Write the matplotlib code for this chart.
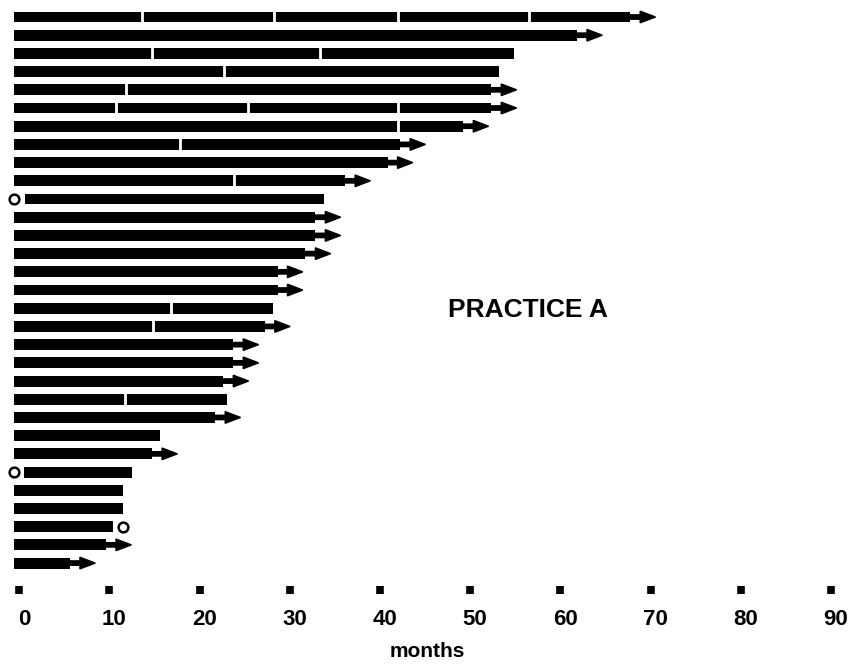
import matplotlib
matplotlib.use("Agg")
import matplotlib.pyplot as plt
from matplotlib.transforms import ScaledTranslation

# swimmer plot data, rows from top to bottom (months)
ends = [68.3, 62.4, 55.4, 53.8, 52.9, 52.9, 49.8, 42.8, 41.4, 36.7,
        34.3, 33.4, 33.4, 32.3, 29.2, 29.2, 28.7, 27.8, 24.3, 24.3,
        23.2, 23.6, 22.3, 16.2, 15.3, 13.1, 12.1, 12.1, 11.0, 10.2, 6.2]
starts = [0, 0, 0, 0, 0, 0, 0, 0, 0, 0,
          1.2, 0, 0, 0, 0, 0, 0, 0, 0, 0,
          0, 0, 0, 0, 0, 1.1, 0, 0, 0, 0, 0]
breaks = [[14.2, 28.8, 42.6, 57.1], [], [15.3, 33.9], [23.3], [12.4],
          [11.3, 25.9, 42.5], [42.5], [18.4], [], [24.4],
          [], [], [], [], [], [], [17.4], [15.4], [], [],
          [], [12.3], [], [], [], [], [], [], [], [], []]
ongoing = [1, 1, 0, 0, 1, 1, 1, 1, 1, 1,
           0, 1, 1, 1, 1, 1, 0, 1, 1, 1,
           1, 0, 1, 0, 1, 0, 0, 0, 0, 1, 1]
circle_start = [10, 25]   # row index with open circle at month 0
circle_end = [(28, 12.1)]  # row index, month
xticks = [0, 10, 20, 30, 40, 50, 60, 70, 80, 90]

fig = plt.figure(figsize=(8.52, 6.68), dpi=100)
ax = fig.add_axes([10 / 852, 1 - 586 / 668, 835 / 852, 581 / 668])

rows = list(range(1, len(ends) + 1))
bh = 0.6
for i, y in enumerate(rows):
    ax.barh(y, ends[i] - starts[i], left=starts[i], height=bh,
            color='black', zorder=2)
    for b in breaks[i]:
        ax.vlines(b, y - bh / 2 - 0.05, y + bh / 2 + 0.05, colors='white',
                  linewidth=2.0, zorder=3)
    if ongoing[i]:
        ax.arrow(ends[i] - 0.2, y, 3.0, 0, width=0.24, head_width=0.64,
                 head_length=1.7, length_includes_head=True,
                 color='black', zorder=2)

for r in circle_start:
    ax.plot(0, rows[r], 'o', ms=7, mfc='white', mec='black', mew=1.8,
            zorder=4, clip_on=False)
for r, m in circle_end:
    ax.plot(m, rows[r], 'o', ms=7, mfc='white', mec='black', mew=1.8,
            zorder=4, clip_on=False)

ax.text(57, 17.1, 'PRACTICE A', fontsize=19, fontweight='bold',
        family='Liberation Sans', ha='center', va='center')

ax.set_xlim(-0.45, 92.1)
ax.set_ylim(32.26, 0.34)
for s in ax.spines.values():
    s.set_visible(False)
ax.set_yticks([])
ax.set_xticks(xticks)
ax.set_xticklabels([str(t) for t in xticks], fontsize=16, fontweight='bold',
                   family='Liberation Sans')
ax.tick_params(axis='x', direction='out', length=5.5, width=5.5, pad=11)
ax.set_xlabel('months', fontsize=15, fontweight='bold',
              family='Liberation Sans', labelpad=9)

# shift tick marks and labels a little to the right, as in the original
mark_shift = ScaledTranslation(5 / 100, 0, fig.dpi_scale_trans)
label_shift = ScaledTranslation(10 / 100, 0, fig.dpi_scale_trans)
for t in ax.xaxis.get_major_ticks():
    t.tick1line.set_transform(t.tick1line.get_transform() + mark_shift)
    t.label1.set_transform(t.label1.get_transform() + label_shift)

fig.savefig('out.png', dpi=100)
